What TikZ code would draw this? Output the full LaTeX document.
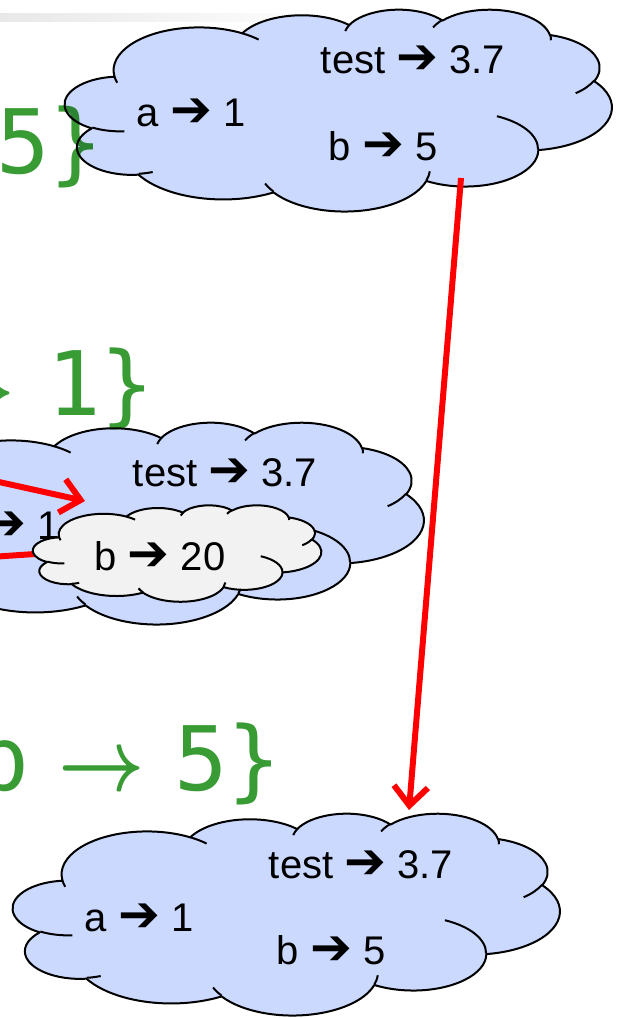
\documentclass[tikz,border=0pt]{standalone}
\usepackage{fontspec}
\usepackage{graphicx}
\setmainfont{Liberation Sans}
\newfontfamily\arrowfont{DejaVu Sans}
\newfontfamily\monofont{DejaVu Sans Mono}
\usetikzlibrary{arrows.meta}
\definecolor{cloudblue}{RGB}{203,217,255}
\definecolor{cloudgrey}{RGB}{242,242,242}
\definecolor{formgreen}{RGB}{56,155,52}
\definecolor{bandgrey}{RGB}{232,232,232}

\makeatletter
% visual (DrawingML) angle -> parametric angle of the ellipse
\newcommand\cldcalc[5]{%
  \pgfmathsetmacro\cld@A{#4}%
  \pgfmathsetmacro\cld@B{#4+#5}%
  \pgfmathsetmacro\cld@a{\cld@A+mod(atan2(#2*sin(\cld@A),#3*cos(\cld@A))-\cld@A+900,360)-180}%
  \pgfmathsetmacro\cld@b{\cld@B+mod(atan2(#2*sin(\cld@B),#3*cos(\cld@B))-\cld@B+900,360)-180}%
  \expandafter\xdef\csname cld#1s\endcsname{\cld@a}%
  \expandafter\xdef\csname cld#1e\endcsname{\cld@b}%
}
\makeatother
\cldcalc{A}{6.753}{9.190}{-190.487483}{123.780533}
\cldcalc{B}{5.333}{7.267}{-144.102383}{89.945233}
\cldcalc{C}{4.365}{5.945}{-145.807917}{99.723017}
\cldcalc{D}{4.857}{6.595}{-130.986067}{117.241733}
\cldcalc{E}{5.333}{7.273}{-78.708883}{109.026917}
\cldcalc{F}{6.775}{9.220}{-46.26725}{130.269}
\cldcalc{G}{5.785}{7.867}{0.625017}{114.033333}
\cldcalc{H}{6.752}{9.215}{22.4516}{115.17255}
\cldcalc{I}{7.720}{10.543}{66.242633}{75.711017}
\cldcalc{J}{4.360}{5.918}{-274.942083}{146.735567}
\cldcalc{K}{4.345}{5.945}{-246.8285}{152.51885}
\cldcalc{a}{4.345}{5.945}{86.742}{26.4295}
\cldcalc{b}{4.360}{5.918}{73.61047}{11.44747}
\cldcalc{c}{6.752}{9.215}{137.62415}{14.0811}
\cldcalc{d}{6.752}{9.215}{6.45327}{15.99835}
\cldcalc{e}{5.785}{7.867}{-70.29235}{70.91737}
\cldcalc{f}{5.333}{7.273}{30.31803}{27.7515}
\cldcalc{g}{4.857}{6.595}{-13.74433}{14.8589}
\cldcalc{h}{4.857}{6.595}{-149.18145}{18.19537}
\cldcalc{i}{4.365}{5.945}{-163.49427}{17.68635}
\cldcalc{j}{6.753}{9.190}{-66.70695}{12.31935}
\cldcalc{k}{6.753}{9.190}{157.65435}{11.85817}

\tikzset{
  cloudline/.style={draw=black, line width=2pt, line join=round},
  lbl/.style={inner sep=0pt, anchor=base, font=\fontsize{40}{44}\selectfont},
  formula/.style={inner sep=0pt, anchor=base west, text=formgreen,
    font=\monofont\fontsize{89}{89}\selectfont, blend mode=multiply},
  redline/.style={draw=red, line width=6pt},
  redarrow/.style={redline, -{Straight Barb[length=19pt, width=34pt]}},
}

% #1 x, #2 y (top left, in px), #3 width, #4 height, #5 fill colour
\newcommand\pptcloud[5]{%
  \begin{scope}[shift={(#1pt,-#2pt)}, x=1cm, y=1cm,
      xscale=#3*0.000813563, yscale=-#4*0.000813563]
    \filldraw[cloudline, fill=#5] (3.9,14.37)
      arc[start angle=\cldAs, end angle=\cldAe, x radius=6.753, y radius=9.190]
      arc[start angle=\cldBs, end angle=\cldBe, x radius=5.333, y radius=7.267]
      arc[start angle=\cldCs, end angle=\cldCe, x radius=4.365, y radius=5.945]
      arc[start angle=\cldDs, end angle=\cldDe, x radius=4.857, y radius=6.595]
      arc[start angle=\cldEs, end angle=\cldEe, x radius=5.333, y radius=7.273]
      arc[start angle=\cldFs, end angle=\cldFe, x radius=6.775, y radius=9.220]
      arc[start angle=\cldGs, end angle=\cldGe, x radius=5.785, y radius=7.867]
      arc[start angle=\cldHs, end angle=\cldHe, x radius=6.752, y radius=9.215]
      arc[start angle=\cldIs, end angle=\cldIe, x radius=7.720, y radius=10.543]
      arc[start angle=\cldJs, end angle=\cldJe, x radius=4.360, y radius=5.918]
      arc[start angle=\cldKs, end angle=\cldKe, x radius=4.345, y radius=5.945]
      -- cycle;
    \draw[cloudline]
      (4.693,26.177) arc[start angle=\cldas, end angle=\cldae, x radius=4.345, y radius=5.945]
      (6.928,34.899) arc[start angle=\cldbs, end angle=\cldbe, x radius=4.360, y radius=5.918]
      (16.478,39.090) arc[start angle=\cldcs, end angle=\cldce, x radius=6.752, y radius=9.215]
      (28.827,34.751) arc[start angle=\cldds, end angle=\cldde, x radius=6.752, y radius=9.215]
      (34.129,22.954) arc[start angle=\cldes, end angle=\cldee, x radius=5.785, y radius=7.867]
      (41.798,15.354) arc[start angle=\cldfs, end angle=\cldfe, x radius=5.333, y radius=7.273]
      (38.324,5.426) arc[start angle=\cldgs, end angle=\cldge, x radius=4.857, y radius=6.595]
      (29.078,3.952) arc[start angle=\cldhs, end angle=\cldhe, x radius=4.857, y radius=6.595]
      (22.141,4.720) arc[start angle=\cldis, end angle=\cldie, x radius=4.365, y radius=5.945]
      (14.000,5.192) arc[start angle=\cldjs, end angle=\cldje, x radius=6.753, y radius=9.190]
      (4.127,15.789) arc[start angle=\cldks, end angle=\cldke, x radius=6.753, y radius=9.190];
  \end{scope}}

\newcommand\rarr{\scalebox{1.25}{\arrowfont ➔}}
\newcommand\mathto{\scalebox{7.5}[8.8]{\fontsize{10}{12}\selectfont\boldmath$\rightarrow$}}

\begin{document}
\begin{tikzpicture}[x=1pt, y=-1pt]
  \useasboundingbox (0,0) rectangle (620,1018);
  \fill[white] (0,0) rectangle (620,1018);
  % header band
  \shade[left color=bandgrey, right color=white] (0,13) rectangle (340,21);

  % top environment
  \pptcloud{65}{9}{550}{203}{cloudblue}
  \node[lbl] (t1) at (413,73) {test \rarr\ 3.7};
  \node[lbl] (t2) at (191,126) {a \rarr\ 1};
  \node[lbl] (t3) at (383,160) {b \rarr\ 5};

  % middle environment
  \pptcloud{-123}{422}{550}{203}{cloudblue}
  \node[lbl] (m1) at (225,486) {test \rarr\ 3.7};
  \node[lbl] (m2) at (5,539) {a \rarr\ 1};
  \coordinate (ptrA) at (-10,480);
  \coordinate (ptrAend) at (85,501);
  \draw[redarrow] (ptrA) -- (ptrAend);
  \coordinate (ptrB) at (-10,557);
  \coordinate (ptrBend) at (50,553);
  \draw[redline] (ptrB) -- (ptrBend);
  \pptcloud{33}{505}{290}{97}{cloudgrey}
  \node[lbl] (g1) at (160,570) {b \rarr\ 20};

  % bottom environment
  \pptcloud{13}{813}{550}{203}{cloudblue}
  \node[lbl] (b1) at (361,878) {test \rarr\ 3.7};
  \node[lbl] (b2) at (139,931) {a \rarr\ 1};
  \node[lbl] (b3) at (331,964) {b \rarr\ 5};

  % long pointer
  \coordinate (ptrC) at (461,178);
  \coordinate (ptrCend) at (409,810);
  \draw[redarrow] (ptrC) -- (ptrCend);

  % green formulas
  \node[formula] (f1) at (-4,173) {5\}};
  \node[formula] (f2) at (-72,415) {\mathto};
  \node[formula] (f3) at (47,415) {1\}};
  \node[formula] (f4) at (-25,790) {b};
  \node[formula] (f5) at (58,790) {\mathto};
  \node[formula] (f6) at (174,790) {5\}};
\end{tikzpicture}
\end{document}
